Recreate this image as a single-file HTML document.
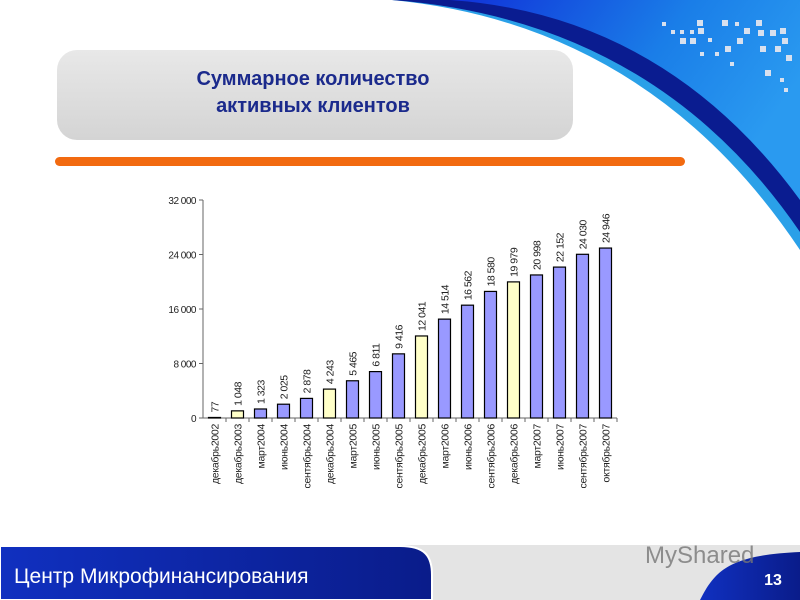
<!DOCTYPE html>
<html><head><meta charset="utf-8"><style>
body{margin:0;width:800px;height:600px;overflow:hidden;background:#fff;font-family:"Liberation Sans",sans-serif;position:relative}
</style></head><body>
<svg width="800" height="600" style="position:absolute;left:0;top:0">
<defs>
<linearGradient id="bl" x1="0" x2="1"><stop offset="0" stop-color="#1030c0"/><stop offset="1" stop-color="#0a1c8a"/></linearGradient>
<linearGradient id="tb" x1="0" y1="0" x2="0" y2="1"><stop offset="0" stop-color="#e8e8e8"/><stop offset="1" stop-color="#d4d4d4"/></linearGradient>
<linearGradient id="sky" x1="0" y1="0" x2="1" y2="0.4"><stop offset="0" stop-color="#1030d8"/><stop offset="0.6" stop-color="#1a7ee8"/><stop offset="1" stop-color="#2a9af0"/></linearGradient>
</defs>
<g>
<path d="M392 0 Q650 25 800 250 L800 0Z" fill="#2aa0e8"/>
<path d="M392 0 Q655 20 800 232 L800 0Z" fill="#0a1c90"/>
<path d="M450 0 Q665 15 800 200 L800 0Z" fill="url(#sky)"/>
<g fill="#d8e0ee">
<rect x="662" y="22" width="4" height="4"/><rect x="671" y="30" width="4" height="4"/><rect x="680" y="30" width="4" height="4"/><rect x="690" y="30" width="4" height="4"/><rect x="697" y="20" width="6" height="6"/><rect x="698" y="28" width="6" height="6"/><rect x="680" y="38" width="6" height="6"/><rect x="690" y="38" width="6" height="6"/><rect x="708" y="38" width="4" height="4"/><rect x="722" y="20" width="6" height="6"/><rect x="735" y="22" width="4" height="4"/><rect x="737" y="38" width="6" height="6"/><rect x="744" y="28" width="6" height="6"/><rect x="756" y="20" width="6" height="6"/><rect x="758" y="30" width="6" height="6"/><rect x="770" y="30" width="6" height="6"/><rect x="780" y="28" width="6" height="6"/><rect x="782" y="38" width="6" height="6"/><rect x="760" y="46" width="6" height="6"/><rect x="775" y="46" width="6" height="6"/><rect x="786" y="55" width="6" height="6"/><rect x="765" y="70" width="6" height="6"/><rect x="780" y="78" width="4" height="4"/><rect x="784" y="88" width="4" height="4"/><rect x="725" y="46" width="6" height="6"/><rect x="715" y="52" width="4" height="4"/><rect x="700" y="52" width="4" height="4"/><rect x="730" y="62" width="4" height="4"/>
</g>
</g>
<rect x="57" y="50" width="516" height="90" rx="20" fill="url(#tb)"/>
<text x="313" y="85" text-anchor="middle" font-size="20" font-weight="bold" fill="#1b2a8c">Суммарное количество</text>
<text x="313" y="112" text-anchor="middle" font-size="20" font-weight="bold" fill="#1b2a8c">активных клиентов</text>
<rect x="55" y="157" width="630" height="9" rx="4.5" fill="#f26a10"/>
<g id="chart"></g>
<g>
<rect x="0" y="545" width="800" height="55" fill="#e4e4e4"/>
<path d="M0 546 L400 546 C425 546 432 556 432 575 L432 600 L0 600Z" fill="url(#bl)" stroke="#fff" stroke-width="2"/>
<path d="M700 600 C715 570 730 555 800 552 L800 600Z" fill="url(#bl)"/>
<text x="14" y="583" font-size="21" fill="#fff">Центр  Микрофинансирования</text>
<text x="773" y="585" font-size="16" font-weight="bold" fill="#fff" text-anchor="middle">13</text>
<text x="645" y="563" font-size="24" fill="#777" opacity="0.8">MyShared</text>
</g>
</svg>
<script>
const categories=["декабрь2002","декабрь2003","март2004","июнь2004","сентябрь2004","декабрь2004","март2005","июнь2005","сентябрь2005","декабрь2005","март2006","июнь2006","сентябрь2006","декабрь2006","март2007","июнь2007","сентябрь2007","октябрь2007"];
const values=[77,1048,1323,2025,2878,4243,5465,6811,9416,12041,14514,16562,18580,19979,20998,22152,24030,24946];
const valueLabels=["77","1 048","1 323","2 025","2 878","4 243","5 465","6 811","9 416","12 041","14 514","16 562","18 580","19 979","20 998","22 152","24 030","24 946"];
const highlighted=[1,5,9,13];
const yTicks=[0,8000,16000,24000,32000];
const yTickLabels=["0","8 000","16 000","24 000","32 000"];
const NS="http://www.w3.org/2000/svg";
const g=document.getElementById('chart');
const x0=203,x1=617,yb=418,yt=200,ymax=32000;
const bw=(x1-x0)/categories.length;
const y=v=>yb-(v/ymax)*(yb-yt);
const xc=i=>x0+bw*(i+0.5);
function mk(t,a,p){const e=document.createElementNS(NS,t);for(const k in a)e.setAttribute(k,a[k]);(p||g).appendChild(e);return e;}
let ax=mk('line',{x1:x0,y1:yt,x2:x0,y2:yb,stroke:'#666'});


let bx=mk('line',{x1:x0,y1:yb,x2:x1,y2:yb,stroke:'#666'});


yTicks.forEach((t,i)=>{
 mk('line',{x1:x0-4,y1:y(t),x2:x0,y2:y(t),stroke:'#666'});
 const tx=mk('text',{x:x0-7,y:y(t)+4,'text-anchor':'end','font-size':10,fill:'#222','letter-spacing':'-0.5'});
 tx.textContent=yTickLabels[i];
 
 
});
categories.forEach((c,i)=>{
 mk('line',{x1:x0+bw*(i+1),y1:yb,x2:x0+bw*(i+1),y2:yb+4,stroke:'#666'});
 const h=yb-y(values[i]);
 const r=mk('rect',{x:xc(i)-6,y:y(values[i]),width:12,height:Math.max(h,0.5),fill:highlighted.includes(i)?'#ffffc8':'#9999ff',stroke:'#000','stroke-width':1.2});
 
 
 const vl=mk('text',{transform:`translate(${xc(i)+4},${y(values[i])-5}) rotate(-90)`,'font-size':10.5,fill:'#222','letter-spacing':'-0.5'});
 vl.textContent=valueLabels[i];
 
 
 const cl=mk('text',{transform:`translate(${xc(i)+4},${yb+6}) rotate(-90)`,'text-anchor':'end','font-size':10.5,fill:'#222','letter-spacing':'-0.3'});
 cl.textContent=c;
 
 
});
</script>
</body></html>
